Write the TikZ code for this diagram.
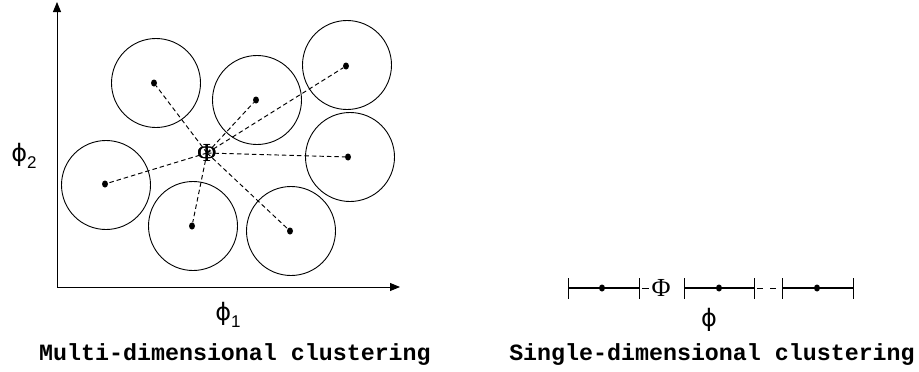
\documentclass[tikz,border=0pt]{standalone}
\usepackage{fontspec}
\newfontfamily\capfont{Liberation Mono}
\newfontfamily\serfont{Liberation Serif}
\newfontfamily\phifont{DejaVu Sans}
\newfontfamily\subfont{Liberation Sans}
\usetikzlibrary{arrows.meta,shapes.geometric}
\newcommand{\phisym}[1]{{\phifont ϕ}\raisebox{-0.3em}{\subfont\fontsize{17}{17}\selectfont #1}}
\begin{document}
\begin{tikzpicture}[x=1pt,y=-1pt,
  ring/.style={draw,circle,minimum size=89pt,inner sep=0pt,line width=0.9pt},
  dotpt/.style={ellipse,fill,inner sep=0pt,minimum width=6pt,minimum height=7pt},
  link/.style={dash pattern=on 4.5pt off 3pt,line width=0.95pt},
  axisline/.style={line width=1pt,-{Triangle[length=10pt,width=8pt]}},
  phinode/.style={inner sep=1pt,font=\serfont\fontsize{26}{28}\selectfont},
  axlabel/.style={inner sep=0pt,font=\fontsize{24}{26}\selectfont},
  caption/.style={inner sep=0pt,font=\capfont\bfseries\fontsize{23.3}{26}\selectfont},
  seg/.style={line width=2.6pt},
  tick/.style={line width=0.9pt},
]
\useasboundingbox (0,0) rectangle (919,372);

% axes
\coordinate (O) at (57,287);
\coordinate (xend) at (400,287);
\coordinate (yend) at (57,2);
\draw[axisline] (O) -- (xend);
\draw[axisline] (O) -- (yend);

% clusters
\node[ring] (k1) at (156,83) {};
\node[ring] (k2) at (257,100) {};
\node[ring] (k3) at (347,65) {};
\node[ring] (k4) at (350,157) {};
\node[ring] (k5) at (106,185) {};
\node[ring] (k6) at (193,226) {};
\node[ring] (k7) at (291,231) {};

\node[dotpt] (c1) at (154,83) {};
\node[dotpt] (c2) at (256,100) {};
\node[dotpt] (c3) at (346,66) {};
\node[dotpt] (c4) at (348,157) {};
\node[dotpt] (c5) at (105,184) {};
\node[dotpt] (c6) at (192,226) {};
\node[dotpt] (c7) at (290,231) {};

\node[phinode] (P) at (207,153) {Φ};
\foreach \c in {c1,c2,c3,c4,c5,c6,c7}
  \draw[link] (P.center) -- (\c);
\node[phinode,inner sep=0pt] at (207,153) {Φ};

\node[axlabel] (l2) at (24,156) {\phisym{2}};
\node[axlabel] (l1) at (228,315) {\phisym{1}};
\node[caption] (cap1) at (235,355) {Multi-dimensional clustering};

% single-dimensional
\coordinate (t1) at (568,288);
\coordinate (t2) at (639,288);
\coordinate (t3) at (684,288);
\coordinate (t4) at (754,288);
\coordinate (t5) at (782,288);
\coordinate (t6) at (853,288);
\draw[seg] (t1) -- (t2);
\draw[seg] (t3) -- (t4);
\draw[seg] (t5) -- (t6);
\foreach \t in {t1,t2,t3,t4,t5,t6}
  \draw[tick] ([yshift=-10.5pt]\t) -- ([yshift=10.5pt]\t);
\node[dotpt] (d1) at (602,288) {};
\node[dotpt] (d2) at (719,288) {};
\node[dotpt] (d3) at (817,288) {};
\node[phinode,inner sep=0pt] (Q) at (661,288) {Φ};
\draw[link,dash pattern=on 7pt off 6pt,dash phase=-3pt] (t2) -- (Q);
\draw[link,dash pattern=on 6pt off 7pt,dash phase=-3pt] (t4) -- (t5);
\node[axlabel] (l0) at (709,320) {{\phifont ϕ}};
\node[caption] (cap2) at (712,355) {Single-dimensional clustering};
\end{tikzpicture}
\end{document}
